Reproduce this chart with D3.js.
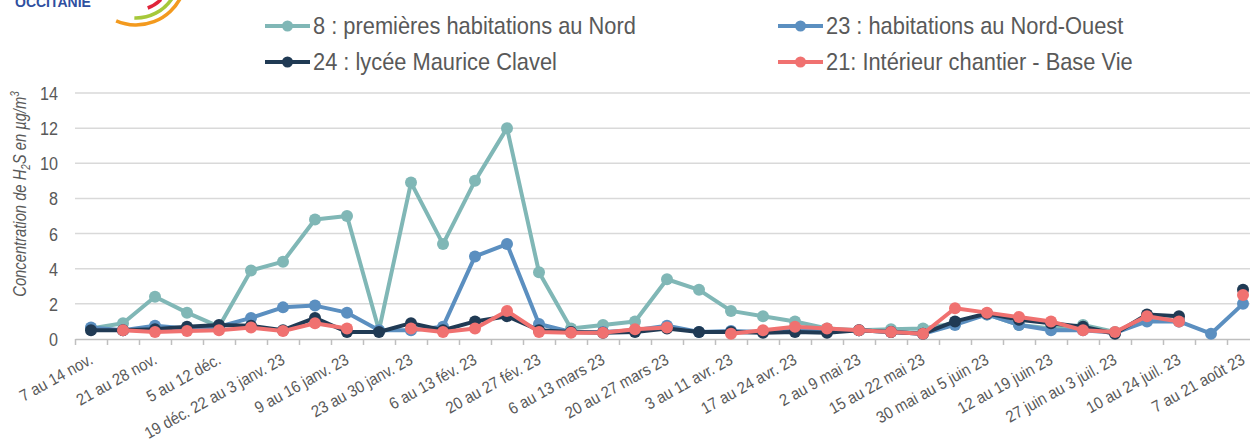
<!DOCTYPE html>
<html>
<head>
<meta charset="utf-8">
<script src="https://cdn.jsdelivr.net/npm/d3@7"></script>
<style>
  html, body { margin: 0; padding: 0; background: #fff; }
  svg { display: block; font-family: "Liberation Sans", Arial, sans-serif; }
</style>
</head>
<body>
<svg id="chart" width="1250" height="439"></svg>
<script>
// x categories: only every other week carries a visible label
const tickLabels = [
  '7 au 14 nov.', '', '21 au 28 nov.', '', '5 au 12 déc.', '', '19 déc. 22 au 3 janv. 23', '',
  '9 au 16 janv. 23', '', '23 au 30 janv. 23', '', '6 au 13 fév. 23', '', '20 au 27 fév. 23', '',
  '6 au 13 mars 23', '', '20 au 27 mars 23', '', '3 au 11 avr. 23', '', '17 au 24 avr. 23', '',
  '2 au 9 mai 23', '', '15 au 22 mai 23', '', '30 mai au 5 juin 23', '', '12 au 19 juin 23', '',
  '27 juin au 3 juil. 23', '', '10 au 24 juil. 23', '', '7 au 21 août 23'
];
const yTicks = [0, 2, 4, 6, 8, 10, 12, 14];

const site8 = [0.6, 0.9, 2.4, 1.5, 0.7, 3.9, 4.4, 6.8, 7.0, 0.5, 8.9, 5.4, 9.0, 12.0, 3.8, 0.6, 0.8, 1.0, 3.4,
  2.8, 1.6, 1.3, 1.0, 0.6, 0.5, 0.55, 0.6, 0.9, 1.4, 0.8, 0.6, 0.8, 0.4, 1.1, 1.0, null, null];
const site23 = [0.65, 0.5, 0.75, 0.6, 0.7, 1.2, 1.8, 1.9, 1.5, 0.5, 0.5, 0.7, 4.7, 5.4, 0.85, 0.4, 0.4, 0.5, 0.75,
  0.4, 0.45, 0.4, 0.5, 0.5, 0.5, 0.4, 0.3, 0.8, 1.4, 0.8, 0.5, 0.5, 0.35, 1.0, 1.0, 0.3, 2.0];
const site24 = [0.5, 0.5, 0.55, 0.7, 0.8, 0.75, 0.5, 1.2, 0.4, 0.4, 0.9, 0.5, 1.0, 1.3, 0.5, 0.4, 0.35, 0.4, 0.6,
  0.4, 0.4, 0.35, 0.4, 0.35, 0.5, 0.4, 0.3, 1.0, 1.45, 1.1, 0.9, 0.7, 0.3, 1.4, 1.3, null, 2.8];
const site21 = [null, 0.5, 0.4, 0.45, 0.5, 0.65, 0.45, 0.9, 0.6, null, 0.6, 0.4, 0.6, 1.6, 0.4, 0.35, 0.35, 0.55, 0.65,
  null, 0.3, 0.5, 0.7, 0.6, 0.5, 0.4, 0.3, 1.75, 1.5, 1.25, 1.0, 0.5, 0.4, 1.3, 1.0, null, 2.5];

const series = [
  { name: '8 : premières habitations au Nord', values: site8, color: '#80b7b6' },
  { name: '23 : habitations au Nord-Ouest', values: site23, color: '#5b8fc0' },
  { name: '24 : lycée Maurice Clavel', values: site24, color: '#203a54' },
  { name: '21: Intérieur chantier - Base Vie', values: site21, color: '#f07170' }
];

const svg = d3.select('#chart');
const textColor = '#595959';
const left = 75, band = 32, y0 = 339, y14 = 93;

const x = d3.scaleBand().domain(d3.range(tickLabels.length)).range([left, left + band * tickLabels.length]);
const xEdge = d3.scaleLinear().domain([0, tickLabels.length]).range([left, left + band * tickLabels.length]);
const y = d3.scaleLinear().domain([0, 14]).range([y0, y14]);
const cx = i => x(i) + x.bandwidth() / 2;

// logo fragment (top-left, cut by the frame)
const logo = svg.append('g');
logo.append('text').attr('x', 15).attr('y', 7).attr('font-size', 14).attr('font-weight', 'bold')
  .attr('fill', '#2f4f9f').text('OCCITANIE');
const arc = d3.arc();
const logoArcs = [
  { r: 50, a0: 2.0, a1: 3.55, color: '#f39a1e' },
  { r: 43, a0: 2.15, a1: 3.18, color: '#a6c83a' },
  { r: 35, a0: 2.35, a1: 2.8, color: '#e0243a' }
];
logo.selectAll('path').data(logoArcs).enter().append('path')
  .attr('transform', 'translate(136,-25)')
  .attr('d', d => arc({ innerRadius: d.r - 1.8, outerRadius: d.r + 1.8, startAngle: d.a0, endAngle: d.a1, cornerRadius: 1.8 }))
  .attr('fill', d => d.color);

// gridlines
svg.append('g').selectAll('line').data(yTicks.filter(d => d > 0)).enter().append('line')
  .attr('x1', left).attr('x2', 1250)
  .attr('y1', d => y(d)).attr('y2', d => y(d))
  .attr('stroke', '#d9d9d9').attr('stroke-width', 1.5);

// x axis line and ticks at band edges
const xAxis = svg.append('g').attr('transform', `translate(0,${y0})`)
  .call(d3.axisBottom(xEdge).tickValues(d3.range(tickLabels.length + 1)).tickFormat('').tickSize(6).tickSizeOuter(0));
xAxis.select('.domain').attr('stroke', '#bfbfbf').attr('stroke-width', 1.5);
xAxis.selectAll('.tick line').attr('stroke', '#bfbfbf').attr('stroke-width', 1.5);

// y tick labels
svg.append('g').selectAll('text').data(yTicks).enter().append('text')
  .attr('transform', d => `translate(58,${y(d) + 7}) scale(0.85,1)`)
  .attr('text-anchor', 'end').attr('font-size', 19).attr('fill', textColor)
  .text(d => d);

// y title
const yt = svg.append('text')
  .attr('transform', 'translate(26,194) rotate(-90) scale(0.82,1)')
  .attr('text-anchor', 'middle').attr('font-size', 18).attr('font-style', 'italic').attr('fill', textColor);
yt.append('tspan').text('Concentration de H');
yt.append('tspan').attr('font-size', 12).attr('dy', 4).text('2');
yt.append('tspan').attr('dy', -4).text('S en µg/m');
yt.append('tspan').attr('font-size', 12).attr('dy', -7).text('3');

// x tick labels
svg.append('g').selectAll('text').data(tickLabels.map((t, i) => ({ t, i })).filter(d => d.t)).enter().append('text')
  .attr('transform', d => `translate(${cx(d.i) + 3},363) rotate(-29) scale(0.9,1)`)
  .attr('text-anchor', 'end').attr('font-size', 16.5).attr('fill', textColor)
  .text(d => d.t);

// lines and markers
const line = d3.line().defined(d => d != null).x((d, i) => cx(i)).y(d => y(d));
series.forEach(s => {
  const g = svg.append('g');
  g.append('path').datum(s.values).attr('d', line)
    .attr('fill', 'none').attr('stroke', s.color).attr('stroke-width', 4).attr('stroke-linejoin', 'round');
  g.selectAll('circle').data(s.values.map((v, i) => ({ v, i })).filter(d => d.v != null)).enter().append('circle')
    .attr('cx', d => cx(d.i)).attr('cy', d => y(d.v)).attr('r', 6).attr('fill', s.color);
});

// legend
const legendPos = [[265, 26], [778, 26], [265, 62], [778, 62]];
const legendOrder = [0, 1, 2, 3];
const lg = svg.append('g').selectAll('g').data(legendOrder).enter().append('g')
  .attr('transform', (d, k) => `translate(${legendPos[k][0]},${legendPos[k][1]})`);
lg.append('line').attr('x1', 0).attr('x2', 45).attr('stroke', d => series[d].color).attr('stroke-width', 4);
lg.append('circle').attr('cx', 22.5).attr('r', 5.5).attr('fill', d => series[d].color);
lg.append('text').attr('transform', 'translate(48,8) scale(0.91,1)')
  .attr('font-size', 24).attr('fill', textColor).text(d => series[d].name);
</script>
</body>
</html>
